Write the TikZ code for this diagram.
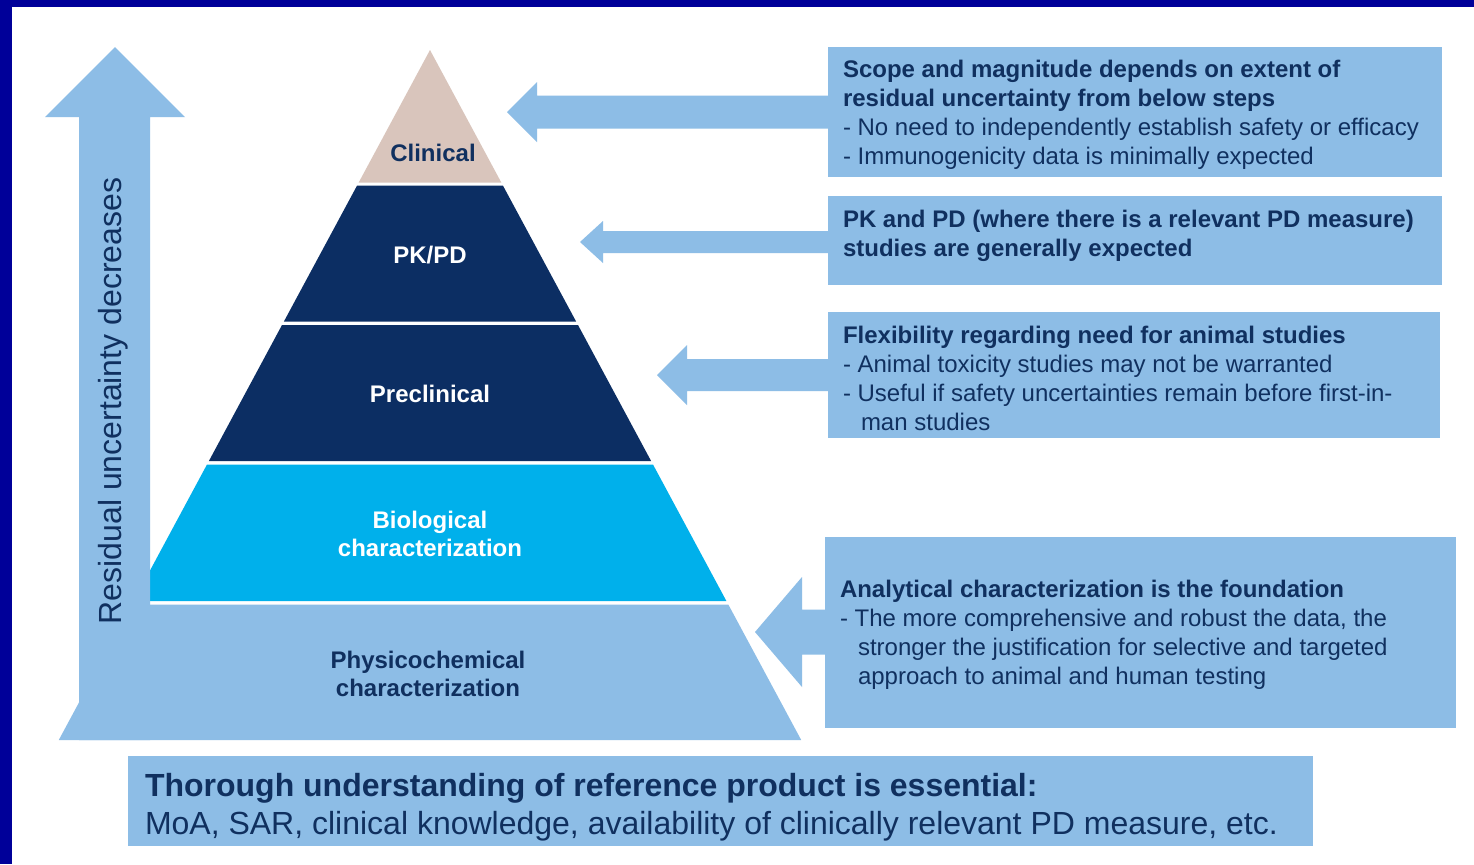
\documentclass[tikz,border=0pt]{standalone}
\usepackage{fontspec}
\setmainfont{Liberation Sans}
\usetikzlibrary{calc}

\definecolor{frameblue}{RGB}{0,0,153}
\definecolor{lblue}{RGB}{141,189,230}
\definecolor{deepnavy}{RGB}{12,46,99}
\definecolor{brightcyan}{RGB}{0,176,235}
\definecolor{sand}{RGB}{217,197,188}
\definecolor{inktext}{RGB}{16,48,95}

% left-pointing block arrow: tip x, tip y, head base x, head half height, shaft half height, tail x
\newcommand\blockarrowleft[6]{%
  \fill[lblue] (#1,#2) -- (#3,#2-#4) -- (#3,#2-#5) -- (#6,#2-#5)
    -- (#6,#2+#5) -- (#3,#2+#5) -- (#3,#2+#4) -- cycle;}

\tikzset{
  infobox/.style={rectangle, fill=lblue, inner sep=0pt, anchor=center},
  boxtext/.style={anchor=west, inner sep=0pt, align=left, text=inktext,
    font=\fontsize{12}{14.5}\selectfont},
  layerlabel/.style={inner sep=0pt, align=center,
    font=\bfseries\fontsize{12}{14}\selectfont},
}

\begin{document}
\begin{tikzpicture}[x=0.5pt,y=-0.5pt]
\useasboundingbox (0,0) rectangle (1474,864);
\fill[white] (0,0) rectangle (1474,864);
% frame along the top and left edges
\fill[frameblue] (0,0) rectangle (1474,7);
\fill[frameblue] (0,0) rectangle (12,864);

% pyramid layers, separated by thin white gaps
\fill[sand]       (430,50)    -- (501.3,182.5) -- (358.7,182.5) -- cycle;
\fill[deepnavy]   (357.1,185.5) -- (502.9,185.5) -- (576.1,321.5) -- (283.9,321.5) -- cycle;
\fill[deepnavy]   (282.0,325)   -- (578.0,325)   -- (651.1,461)   -- (208.9,461)   -- cycle;
\fill[brightcyan] (207.0,464.5) -- (653.0,464.5) -- (726.4,601)   -- (133.6,601)   -- cycle;
\fill[lblue]      (131.7,604.5) -- (728.3,604.5) -- (801.2,740)   -- (58.8,740)    -- cycle;

% upward arrow along the left side
\fill[lblue] (115,47) -- (185,117) -- (150,117) -- (150,740) -- (79,740)
  -- (79,117) -- (45,117) -- cycle;
\node[rotate=90, inner sep=0pt, text=inktext, font=\fontsize{16}{19}\selectfont]
  (axislabel) at (113,401) {Residual uncertainty decreases};

% layer labels
\node[layerlabel, text=inktext] (clinical) at (433,153) {Clinical};
\node[layerlabel, text=white] (pkpd) at (430,255) {PK/PD};
\node[layerlabel, text=white] (preclinical) at (430,394) {Preclinical};
\node[layerlabel, text=white] (biological) at (430,534) {Biological\\characterization};
\node[layerlabel, text=inktext] (physico) at (428,674) {Physicochemical\\characterization};

% explanation boxes
\node[infobox, minimum width=307pt, minimum height=65pt]   (box1) at (1135,112) {};
\node[infobox, minimum width=307pt, minimum height=44.5pt] (box2) at (1135,240.5) {};
\node[infobox, minimum width=306pt, minimum height=63pt]   (box3) at (1134,375) {};
\node[infobox, minimum width=315.5pt, minimum height=95.5pt] (box4) at (1140.5,632.5) {};
\node[infobox, minimum width=592.5pt, minimum height=45pt] (box5) at (720.5,801) {};

% arrows from the boxes to the pyramid
\blockarrowleft{507}{112}{537}{30}{16.5}{830}
\blockarrowleft{580}{242}{603}{21}{11}{830}
\blockarrowleft{657}{375}{687}{30}{16}{830}
\blockarrowleft{755}{632}{802}{55}{22.5}{827}

\node[boxtext] (text1) at ($(box1.west)+(15,3)$) {%
  \textbf{Scope and magnitude depends on extent of}\\
  \textbf{residual uncertainty from below steps}\\
  - No need to independently establish safety or efficacy\\
  - Immunogenicity data is minimally expected};
\node[boxtext] (text2) at ($(box2.west)+(15,-5)$) {%
  \textbf{PK and PD (where there is a relevant PD measure)}\\
  \textbf{studies are generally expected}};
\node[boxtext] (text3) at ($(box3.west)+(15,3)$) {%
  \textbf{Flexibility regarding need for animal studies}\\
  - Animal toxicity studies may not be warranted\\
  - Useful if safety uncertainties remain before first-in-\\
  \hspace*{9pt}man studies};
\node[boxtext] (text4) at ($(box4.west)+(15,2)$) {%
  \textbf{Analytical characterization is the foundation}\\
  - The more comprehensive and robust the data, the\\
  \hspace*{9pt}stronger the justification for selective and targeted\\
  \hspace*{9pt}approach to animal and human testing};
\node[boxtext, font=\fontsize{16}{19}\selectfont] (text5) at ($(box5.west)+(17,6)$) {%
  \textbf{Thorough understanding of reference product is essential:}\\
  MoA, SAR, clinical knowledge, availability of clinically relevant PD measure, etc.};
\end{tikzpicture}
\end{document}
